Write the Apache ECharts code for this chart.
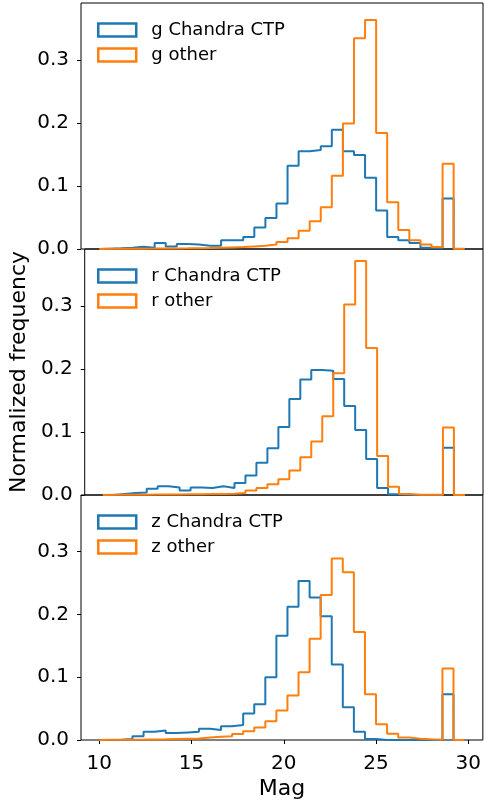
<!DOCTYPE html>
<html><head><meta charset="utf-8">
<script src="https://cdn.jsdelivr.net/npm/echarts@6/dist/echarts.min.js"></script>
<style>html,body{margin:0;padding:0;background:#fff}#c{width:484px;height:801px}</style>
</head><body><div id="c"></div>
<script>
const binEdges = [10.0,10.6,11.2,11.8,12.4,13.0,13.6,14.2,14.8,15.4,16.0,16.6,17.2,17.8,18.4,19.0,19.6,20.2,20.8,21.4,22.0,22.6,23.2,23.8,24.4,25.0,25.6,26.2,26.8,27.4,28.0,28.6,29.2,29.8];
const xTicks = [10,15,20,25,30];
const yTicks = [0,0.1,0.2,0.3];

const gChandra = [0.0005,0.001,0.002,0.0037,0.002,0.0095,0.004,0.008,0.007,0.005,0.005,0.014,0.014,0.019,0.034,0.049,0.072,0.132,0.155,0.157,0.163,0.189,0.155,0.149,0.113,0.061,0.019,0.014,0.0095,0.002,0.001,0.080,0.0];
const gOther = [0.0002,0.0003,0.0004,0.0005,0.0006,0.0008,0.0009,0.001,0.0012,0.0015,0.002,0.0025,0.003,0.004,0.005,0.007,0.011,0.017,0.029,0.044,0.066,0.116,0.199,0.334,0.363,0.184,0.074,0.030,0.014,0.007,0.003,0.135,0.0005];
const rChandra = [0,0.0016,0.003,0.004,0.010,0.014,0.012,0.007,0.012,0.011,0.014,0.011,0.019,0.031,0.051,0.074,0.108,0.152,0.183,0.198,0.197,0.184,0.141,0.103,0.057,0.011,0.001,0,0,0,0,0.075,0];
const rOther = [0.0002,0.0003,0.0004,0.0005,0.0006,0.0007,0.0008,0.001,0.0012,0.0014,0.0016,0.002,0.003,0.007,0.011,0.017,0.025,0.039,0.060,0.085,0.125,0.193,0.302,0.371,0.233,0.062,0.013,0.0016,0.0005,0.0005,0.0005,0.107,0];
const zChandra = [0,0.0005,0.0016,0.006,0.013,0.015,0.011,0.012,0.013,0.018,0.016,0.022,0.024,0.042,0.057,0.100,0.166,0.212,0.253,0.227,0.197,0.120,0.052,0.013,0.0016,0,0,0,0,0,0,0.073,0];
const zOther = [0.0002,0.0003,0.0005,0.0006,0.0008,0.001,0.0015,0.002,0.0025,0.004,0.005,0.006,0.0095,0.014,0.020,0.030,0.047,0.071,0.108,0.161,0.231,0.289,0.267,0.172,0.073,0.025,0.010,0.004,0.002,0.001,0.0005,0.114,0];

const panels = [
  {names:['g Chandra CTP','g other'], data:[gChandra,gOther]},
  {names:['r Chandra CTP','r other'], data:[rChandra,rOther]},
  {names:['z Chandra CTP','z other'], data:[zChandra,zOther]}
];
const colors = ['#1f77b4','#ff7f0e'];
const FONT = 'DejaVu Sans';

function stepData(vals){
  const pts = [[binEdges[0],0]];
  for (let i=0;i<vals.length;i++) pts.push([binEdges[i], vals[i]]);
  const last = binEdges[binEdges.length-1];
  pts.push([last, vals[vals.length-1]]);
  pts.push([last, 0]);
  return pts;
}

const tops = [3,249,495];
const H = 246;
const grids=[], xAxes=[], yAxes=[], series=[], legends=[];
panels.forEach((p,k)=>{
  grids.push({left:81, top:tops[k], width:402, height:H, show:true, borderColor:'#000', borderWidth:1, backgroundColor:'transparent'});
  const isBottom = k===2;
  xAxes.push({type:'value', gridIndex:k, min:9.01, max:30.79,
    axisLine:{show:false}, splitLine:{show:false},
    axisTick:{show:isBottom, length:4, lineStyle:{color:'#000',width:1}, customValues:xTicks},
    axisLabel:{show:isBottom, customValues:xTicks, color:'#000', fontFamily:FONT, fontSize:20, margin:14},
    name: isBottom ? 'Mag' : '', nameLocation:'middle', nameGap:38,
    nameTextStyle:{color:'#000', fontFamily:FONT, fontSize:22}
  });
  yAxes.push({type:'value', gridIndex:k, min:0, max:0.39,
    axisLine:{show:false}, splitLine:{show:false},
    axisTick:{show:true, length:4, lineStyle:{color:'#000',width:1}, customValues:yTicks},
    axisLabel:{customValues:yTicks, color:'#000', fontFamily:FONT, fontSize:20, margin:12, formatter:v=>v.toFixed(1)},
    name: k===1 ? 'Normalized frequency' : '', nameLocation:'middle', nameGap:51, nameRotate:90,
    nameTextStyle:{color:'#000', fontFamily:FONT, fontSize:22}
  });
  p.names.forEach((nm,j)=>{
    series.push({name:nm, type:'line', xAxisIndex:k, yAxisIndex:k, step:'end',
      data: stepData(p.data[j]), showSymbol:false, symbol:'none', z:2+j,
      lineStyle:{color:colors[j], width:2}, itemStyle:{color:colors[j]}, silent:true});
  });
  legends.push({orient:'vertical', left:97, top:tops[k]+18, padding:0, itemGap:7,
    itemWidth:38, itemHeight:13, selectedMode:false,
    textStyle:{color:'#000', fontFamily:FONT, fontSize:18, lineHeight:13, padding:[0,0,0,10]},
    data: p.names.map((nm,j)=>({name:nm, icon:'rect', itemStyle:{color:'transparent', borderColor:colors[j], borderWidth:2.5}}))
  });
});

const chart = echarts.init(document.getElementById('c'), null, {renderer:'canvas'});
chart.setOption({animation:false, backgroundColor:'#fff', grid:grids, xAxis:xAxes, yAxis:yAxes, series:series, legend:legends});
</script>
</body></html>
